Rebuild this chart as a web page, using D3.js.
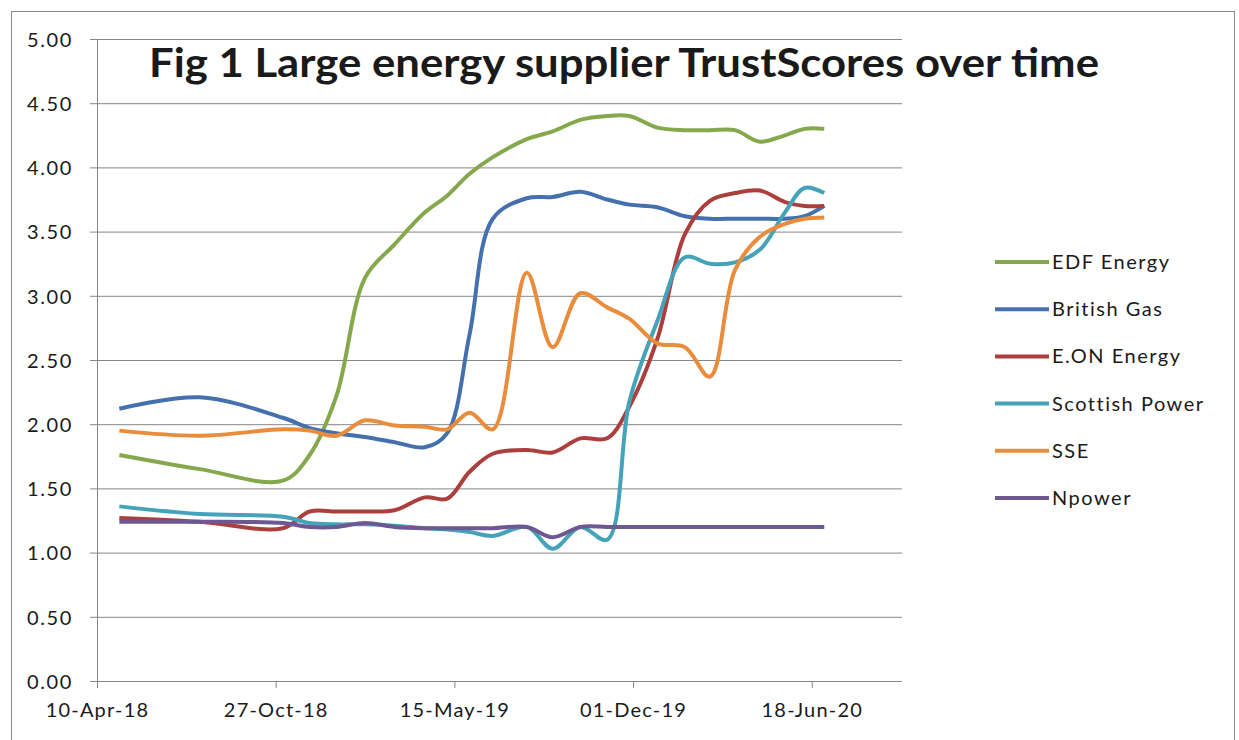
<!DOCTYPE html>
<html>
<head>
<meta charset="utf-8">
<script src="https://cdn.jsdelivr.net/npm/d3@7"></script>
<style>
  body { margin: 0; background: #fff; }
  svg text { font-family: Lato, "Open Sans", sans-serif; fill: #1a1a1a; }
</style>
</head>
<body>
<div id="chart"></div>
<script>
// data
var dates = ["2018-05-05","2018-08-03","2018-11-04","2018-12-04","2019-01-03","2019-02-04",
             "2019-03-09","2019-04-12","2019-05-07","2019-06-01","2019-06-27","2019-08-04",
             "2019-09-02","2019-10-03","2019-11-02","2019-11-27","2019-12-28","2020-01-28",
             "2020-02-25","2020-03-24","2020-04-21","2020-05-19","2020-06-10","2020-07-02"];

var edf      = [1.76,1.65,1.56,1.76,2.22,3.14,3.40,3.65,3.78,3.95,4.08,4.22,4.28,4.37,4.40,4.40,4.31,4.29,4.29,4.29,4.20,4.25,4.30,4.30];
var britGas  = [2.12,2.21,2.05,1.97,1.93,1.90,1.86,1.82,1.93,2.70,3.60,3.76,3.77,3.81,3.75,3.71,3.69,3.62,3.60,3.60,3.60,3.60,3.62,3.70];
var eon      = [1.27,1.24,1.19,1.32,1.32,1.32,1.33,1.43,1.42,1.63,1.77,1.80,1.78,1.89,1.89,2.14,2.66,3.48,3.74,3.80,3.82,3.73,3.70,3.70];
var scottish = [1.36,1.30,1.28,1.23,1.22,1.22,1.21,1.19,1.18,1.16,1.13,1.20,1.03,1.20,1.10,2.18,2.80,3.30,3.25,3.26,3.36,3.65,3.84,3.80];
var sse      = [1.95,1.91,1.96,1.95,1.91,2.03,1.99,1.98,1.96,2.09,1.96,3.18,2.60,3.02,2.91,2.82,2.63,2.60,2.37,3.20,3.46,3.56,3.60,3.61];
var npower   = [1.24,1.24,1.23,1.20,1.20,1.23,1.20,1.19,1.19,1.19,1.19,1.20,1.12,1.20,1.20,1.20,1.20,1.20,1.20,1.20,1.20,1.20,1.20,1.20];

var seriesNames = ["EDF Energy","British Gas","E.ON Energy","Scottish Power","SSE","Npower"];
var seriesVals  = [edf, britGas, eon, scottish, sse, npower];
var colors      = ["#86a84c","#4471ad","#ab3f3d","#44a3b8","#e98c3c","#6e5892"];

var yTicks = [0,0.5,1,1.5,2,2.5,3,3.5,4,4.5,5];
var xTickLabels = ["2018-04-10","2018-10-27","2019-05-15","2019-12-01","2020-06-18"];
var xDomain = ["2018-04-10","2020-09-27"];

var W = 1239, H = 740;
var margin = {top: 39, left: 97, right: W - 902, bottom: H - 681};
var width = W - margin.left - margin.right,
    height = H - margin.top - margin.bottom;

var parse = d3.utcParse("%Y-%m-%d");

var svg = d3.select("#chart").append("svg")
  .attr("width", W)
  .attr("height", H);

// outer frame
svg.append("rect")
  .attr("x", 11.5).attr("y", 11.5)
  .attr("width", 1223).attr("height", 740)
  .attr("fill", "none").attr("stroke", "#8c8c8c");

var g = svg.append("g").attr("transform", "translate(" + margin.left + "," + margin.top + ")");

var x = d3.scaleUtc().domain(xDomain.map(parse)).range([0, width]);
var y = d3.scaleLinear().domain([0, 5]).range([height, 0]);

// gridlines + y axis
var yAxis = g.append("g")
  .call(d3.axisLeft(y).tickValues(yTicks).tickFormat(d3.format(".2f")).tickSize(-width).tickSizeOuter(0));
yAxis.select(".domain").attr("stroke", "#868686");
yAxis.selectAll(".tick line").attr("stroke", "#868686").attr("x1", -7);
yAxis.selectAll(".tick text")
  .attr("x", -24).attr("dy", "0.36em")
  .style("font-size", "20px")
  .style("letter-spacing", "1.6px");

// x axis
var xAxis = g.append("g")
  .attr("transform", "translate(0," + height + ")")
  .call(d3.axisBottom(x).tickValues(xTickLabels.map(parse)).tickFormat(d3.utcFormat("%d-%b-%y")).tickSize(7).tickSizeOuter(0));
xAxis.select(".domain").remove();
xAxis.selectAll(".tick line").attr("stroke", "#868686");
xAxis.selectAll(".tick text")
  .attr("y", 22).attr("dy", "0.71em")
  .style("font-size", "20px")
  .style("letter-spacing", "1.2px");

// lines
var line = d3.line()
  .x(function(d) { return x(d.date); })
  .y(function(d) { return y(d.value); })
  .curve(d3.curveCatmullRom.alpha(0.5));

seriesNames.forEach(function(name, i) {
  var pts = dates.map(function(d, j) { return {date: parse(d), value: seriesVals[i][j]}; });
  g.append("path")
    .datum(pts)
    .attr("fill", "none")
    .attr("stroke", colors[i])
    .attr("stroke-width", 4)
    .attr("stroke-linejoin", "round")
    .attr("d", line);
});

// title
svg.append("text")
  .attr("x", 624).attr("y", 77)
  .attr("text-anchor", "middle")
  .attr("textLength", 950)
  .attr("lengthAdjust", "spacingAndGlyphs")
  .style("font-size", "40px")
  .style("font-weight", "bold")
  .text("Fig 1 Large energy supplier TrustScores over time");

// legend
var legend = svg.append("g").attr("transform", "translate(995,262)");
seriesNames.forEach(function(name, i) {
  var row = legend.append("g").attr("transform", "translate(0," + (i * 47.2) + ")");
  row.append("line")
    .attr("x1", 0).attr("x2", 54)
    .attr("stroke", colors[i]).attr("stroke-width", 4);
  row.append("text")
    .attr("x", 57).attr("dy", "0.35em")
    .style("font-size", "20px")
    .style("letter-spacing", "1.5px")
    .text(name);
});
</script>
</body>
</html>
